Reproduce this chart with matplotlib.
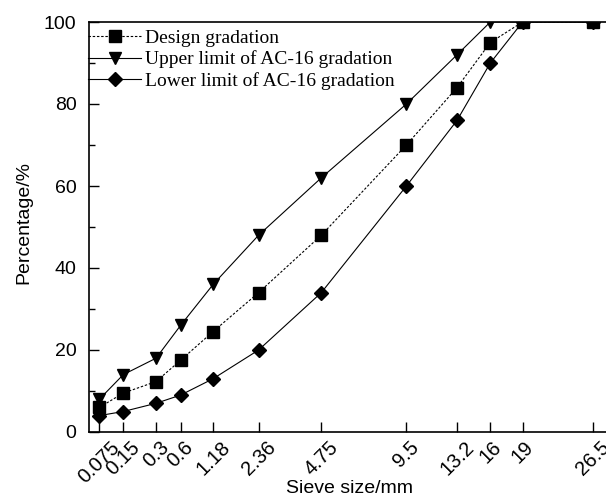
import numpy as np
import matplotlib
matplotlib.use("Agg")
import matplotlib.pyplot as plt
from matplotlib.ticker import MultipleLocator

# sieve sizes (mm) and passing percentages
sieve = [0.075, 0.15, 0.3, 0.6, 1.18, 2.36, 4.75, 9.5, 13.2, 16, 19, 26.5]
sieve_labels = ["0.075", "0.15", "0.3", "0.6", "1.18", "2.36", "4.75",
                "9.5", "13.2", "16", "19", "26.5"]
design = [6, 9.5, 12.3, 17.5, 24.5, 34, 48, 70, 84, 95, 100, 100]
upper = [8, 14, 18, 26, 36, 48, 62, 80, 92, 100, 100, 100]
lower = [4, 5, 7, 9, 13, 20, 34, 60, 76, 90, 100, 100]

# gradation axis: d^0.45 above 0.3 mm, stretched spacing for the fine sieves
FINE_D = [0.0, 0.075, 0.15, 0.3]
FINE_U = [0.0, 0.09, 0.298, 0.3 ** 0.45]


def fwd(d):
    d = np.asarray(d, dtype=float)
    u = np.power(np.clip(d, 0, None), 0.45)
    return np.where(d < 0.3, np.interp(d, FINE_D, FINE_U), u)


def inv(u):
    u = np.asarray(u, dtype=float)
    d = np.power(np.clip(u, 0, None), 1 / 0.45)
    return np.where(u < FINE_U[-1], np.interp(u, FINE_U, FINE_D), d)


plt.rcParams["font.family"] = ["Liberation Sans", "DejaVu Sans"]

fig = plt.figure(figsize=(6.06, 4.97), dpi=100)
ax = fig.add_axes([89 / 606, 1 - 432 / 497, (611 - 89) / 606, (432 - 22) / 497])
ax.set_xscale("function", functions=(fwd, inv))

ax.plot(sieve, design, color="black", linestyle=(0, (2.2, 1.6)), linewidth=0.8,
        marker="s", markersize=8, label="Design gradation", zorder=3)
ax.plot(sieve, upper, color="black", linestyle="-", linewidth=0.8,
        marker="v", markersize=9, label="Upper limit of AC-16 gradation", zorder=3)
ax.plot(sieve, lower, color="black", linestyle="-", linewidth=0.8,
        marker="D", markersize=7.5, label="Lower limit of AC-16 gradation", zorder=3)

ax.set_xlim(0, 28.7)
ax.set_ylim(0, 100)
ax.set_xticks(sieve)
ax.set_xticklabels(sieve_labels, rotation=45)
ax.minorticks_off()
ax.yaxis.set_major_locator(MultipleLocator(20))
ax.yaxis.set_minor_locator(MultipleLocator(10))

ax.tick_params(axis="both", which="major", direction="in", length=7, width=1,
               labelsize=14, pad=9)
ax.tick_params(axis="y", which="minor", direction="in", length=4, width=1)
ax.tick_params(axis="x", which="major", pad=4, labelsize=14.5)
for sp in ax.spines.values():
    sp.set_linewidth(1.2)

ax.set_ylabel("Percentage/%", fontsize=14)
ax.set_xlabel("Sieve size/mm", fontsize=14)
ax.yaxis.set_label_coords(-0.108, 0.51)
ax.xaxis.set_label_coords(0.5, -0.117)

ax.legend(loc="upper left", bbox_to_anchor=(-0.004, 0.985), borderaxespad=0,
          borderpad=0.05, frameon=False, handlelength=2.75, handletextpad=0.2,
          labelspacing=0.2, prop={"family": "Liberation Serif", "size": 14})

fig.savefig("out.png", dpi=100)
